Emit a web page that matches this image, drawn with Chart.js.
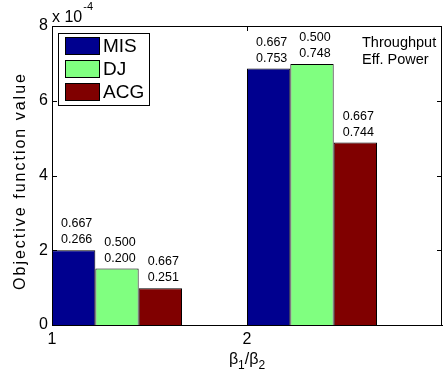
<!DOCTYPE html>
<html>
<head>
<meta charset="utf-8">
<script src="https://cdn.jsdelivr.net/npm/chart.js@4/dist/chart.umd.min.js"></script>
<style>
  html, body { margin: 0; padding: 0; background: #fff; }
  #wrap { width: 445px; height: 381px; }
</style>
</head>
<body>
<div id="wrap"><canvas id="objCanvas" width="445" height="381"></canvas></div>
<script>
// beta1/beta2 groups
const groupPos = [1, 2];
const seriesNames = ["MIS", "DJ", "ACG"];
// objective values, in units of 1e-4
const misValues = [2.0, 6.86];
const djValues = [1.51, 6.98];
const acgValues = [0.98, 4.88];
// text over each bar: throughput, eff. power
const misText = [["0.667", "0.266"], ["0.667", "0.753"]];
const djText = [["0.500", "0.200"], ["0.500", "0.748"]];
const acgText = [["0.667", "0.251"], ["0.667", "0.744"]];
const yTicks = [0, 2, 4, 6, 8];

const barColors = ["#00008f", "#80ff80", "#800000"];
const groupWidth = 2 / 3;

Chart.defaults.font.family = "'Liberation Sans', Arial, sans-serif";
Chart.defaults.color = "#000";

function toPoints(vals) {
  return vals.map((v, i) => ({ x: groupPos[i] + groupWidth / 2, y: v }));
}

const allValues = [misValues, djValues, acgValues];
const allText = [misText, djText, acgText];

// matlab style frame: box, inward ticks, multiplier, titles, legend
const matlabFrame = {
  id: "matlabFrame",
  beforeDatasetsDraw(chart) {
    const { ctx, chartArea: a, scales: { x, y } } = chart;
    ctx.save();
    ctx.strokeStyle = "#000";
    ctx.lineWidth = 1;
    ctx.beginPath();
    ctx.moveTo(a.left, a.top + 0.5);
    ctx.lineTo(a.right - 0.5, a.top + 0.5);
    ctx.lineTo(a.right - 0.5, a.bottom);
    yTicks.forEach(t => {
      const py = Math.round(y.getPixelForValue(t)) + 0.5;
      ctx.moveTo(a.left, py); ctx.lineTo(a.left + 5, py);
      ctx.moveTo(a.right, py); ctx.lineTo(a.right - 5, py);
    });
    groupPos.forEach(g => {
      const px = Math.round(x.getPixelForValue(g)) + 0.5;
      ctx.moveTo(px, a.bottom); ctx.lineTo(px, a.bottom - 5);
      ctx.moveTo(px, a.top); ctx.lineTo(px, a.top + 5);
    });
    ctx.stroke();
    ctx.restore();
  },
  afterDatasetsDraw(chart) {
    const { ctx, chartArea: a } = chart;
    ctx.save();
    ctx.fillStyle = "#000";
    ctx.textAlign = "center";
    ctx.textBaseline = "alphabetic";
    ctx.font = "12.5px 'Liberation Sans', Arial, sans-serif";
    chart.data.datasets.forEach((ds, i) => {
      chart.getDatasetMeta(i).data.forEach((bar, j) => {
        const lines = allText[i][j];
        ctx.fillText(lines[0], bar.x + 3, bar.y - 23);
        ctx.fillText(lines[1], bar.x + 3, bar.y - 7);
      });
    });

    // text key for the two numbers
    ctx.textAlign = "left";
    ctx.font = "14.5px 'Liberation Sans', Arial, sans-serif";
    ctx.fillText("Throughput", 362, 47);
    ctx.fillText("Eff. Power", 362, 64);

    // multiplier
    ctx.font = "16px 'Liberation Sans', Arial, sans-serif";
    ctx.fillText("x 10", a.left, 22);
    const w = ctx.measureText("x 10").width;
    ctx.font = "11px 'Liberation Sans', Arial, sans-serif";
    ctx.fillText("-4", a.left + w + 1, 10);

    // legend
    const lx = 58.5, ly = 33.5;
    ctx.fillStyle = "#fff";
    ctx.fillRect(lx, ly, 91, 72);
    ctx.strokeStyle = "#000";
    ctx.lineWidth = 1;
    ctx.strokeRect(lx, ly, 91, 72);
    ctx.font = "19px 'Liberation Sans', Arial, sans-serif";
    ctx.textBaseline = "middle";
    chart.data.datasets.forEach((ds, i) => {
      const top = 37.5 + i * 23;
      ctx.fillStyle = ds.backgroundColor;
      ctx.fillRect(65.5, top, 34, 17);
      ctx.strokeRect(65.5, top, 34, 17);
      ctx.fillStyle = "#000";
      ctx.fillText(ds.label, 103, top + 9.5);
    });

    // y title
    ctx.save();
    ctx.translate(21, 181);
    ctx.rotate(-Math.PI / 2);
    ctx.textAlign = "center";
    ctx.textBaseline = "middle";
    ctx.font = "16px 'Liberation Sans', Arial, sans-serif";
    if ("letterSpacing" in ctx) ctx.letterSpacing = "2px";
    ctx.fillText("Objective function value", 0, 0);
    ctx.restore();

    // x title with subscripts
    const big = "16px 'Liberation Sans', Arial, sans-serif";
    const small = "12px 'Liberation Sans', Arial, sans-serif";
    const parts = [["\u03b2", big, 0], ["1", small, 5], ["/", big, 0], ["\u03b2", big, 0], ["2", small, 5]];
    let total = 0;
    parts.forEach(p => { ctx.font = p[1]; total += ctx.measureText(p[0]).width; });
    let cx = (a.left + a.right) / 2 - total / 2;
    ctx.textAlign = "left";
    ctx.textBaseline = "alphabetic";
    parts.forEach(p => {
      ctx.font = p[1];
      ctx.fillText(p[0], cx, 364 + p[2]);
      cx += ctx.measureText(p[0]).width;
    });
    ctx.restore();
  }
};

new Chart(document.getElementById("objCanvas"), {
  type: "bar",
  data: {
    datasets: seriesNames.map((name, i) => ({
      label: name,
      data: toPoints(allValues[i]),
      backgroundColor: barColors[i],
      borderColor: "#000",
      borderWidth: 1,
      categoryPercentage: groupWidth,
      barPercentage: 1
    }))
  },
  options: {
    responsive: false,
    animation: false,
    layout: { padding: { left: 0, right: 3, top: 26, bottom: 0 } },
    plugins: { legend: { display: false }, tooltip: { enabled: false } },
    scales: {
      x: {
        type: "linear",
        min: 1,
        max: 3,
        offset: false,
        grid: { display: false, drawTicks: false, offset: false },
        border: { color: "#000", width: 1 },
        ticks: {
          stepSize: 1,
          padding: 5,
          font: { size: 16 },
          maxRotation: 0,
          callback: v => (groupPos.includes(v) ? String(v) : "")
        },
        afterFit: s => { s.height = 56; s.paddingLeft = 0; s.paddingRight = 0; }
      },
      y: {
        min: 0,
        max: 8,
        grid: { display: false, drawTicks: false },
        border: { color: "#000", width: 1 },
        ticks: { stepSize: 2, padding: 4, font: { size: 16 } },
        afterFit: s => { s.width = 52; }
      }
    }
  },
  plugins: [matlabFrame]
});
</script>
</body>
</html>
